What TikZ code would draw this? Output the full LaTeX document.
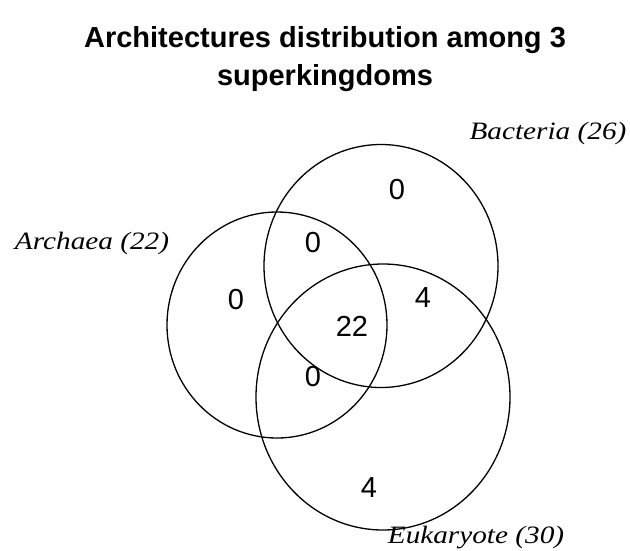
\documentclass[tikz,border=0pt]{standalone}
\usepackage{fontspec}
\usetikzlibrary{shapes.geometric}
\setmainfont{Liberation Serif}
\setsansfont{Liberation Sans}
\newcommand{\widetext}[1]{\scalebox{1.17}[1]{#1}}
\tikzset{
  setcircle/.style={draw=black, line width=1.3pt, ellipse, inner sep=0pt},
  countlabel/.style={font=\sffamily\fontsize{29}{29}\selectfont, inner sep=0pt},
  setname/.style={font=\rmfamily\itshape\fontsize{25}{25}\selectfont, inner sep=0pt},
  titletext/.style={font=\sffamily\bfseries\fontsize{29}{38}\selectfont, align=center, inner sep=0pt}
}
\begin{document}
\begin{tikzpicture}[x=1pt,y=-1pt]
\useasboundingbox[fill=white] (0,0) rectangle (630,550);
\node[titletext] (title) at (325,59) {Architectures distribution among 3\\superkingdoms};
% circles
\node[setcircle, minimum width=220pt, minimum height=226pt] (archaea) at (277,325) {};
\node[setcircle, minimum width=234pt, minimum height=243pt] (bacteria) at (381,266) {};
\node[setcircle, minimum width=254pt, minimum height=266pt] (eukaryote) at (383,397) {};
% set names
\node[setname] (lA) at (92,243) {\widetext{Archaea (22)}};
\node[setname] (lB) at (548,133) {\widetext{Bacteria (26)}};
\node[setname] (lE) at (476,538) {\widetext{Eukaryote (30)}};
% counts
\node[countlabel] (nB) at (397,190) {0};
\node[countlabel] (nAB) at (313,243) {0};
\node[countlabel] (nA) at (236,300) {0};
\node[countlabel] (nBE) at (423,298) {4};
\node[countlabel] (nABE) at (352,326) {22};
\node[countlabel] (nAE) at (313,377) {0};
\node[countlabel] (nE) at (369,488) {4};
\end{tikzpicture}
\end{document}
